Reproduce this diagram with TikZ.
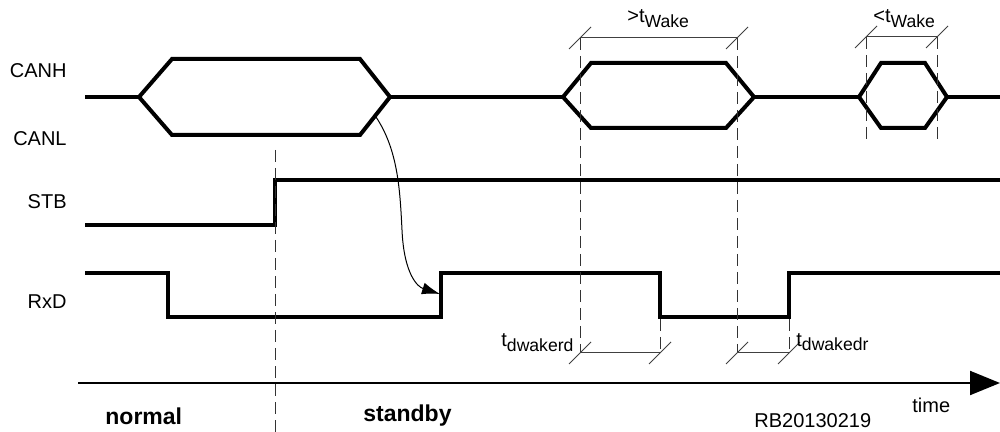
\documentclass[tikz,border=0pt]{standalone}
\usepackage{fontspec}
\setmainfont{Liberation Sans}
\usetikzlibrary{arrows.meta}
\tikzset{
  sig/.style={line width=2pt, line join=miter},
  dimline/.style={line width=0.5pt, black!75},
  guide/.style={line width=0.5pt, black!80, dash pattern=on 6pt off 3pt},
  lbl/.style={inner sep=0pt, font=\fontsize{10}{12}\selectfont},
  blbl/.style={inner sep=0pt, font=\fontsize{11.5}{13}\selectfont\bfseries},
  tick/.style={line width=0.5pt, black!75}
}
\newcommand{\subtxt}[1]{\raisebox{-2.2pt}{\fontsize{8.8}{10}\selectfont #1}}
\begin{document}
\begin{tikzpicture}[x=0.5pt,y=-0.5pt]
\useasboundingbox (0,0) rectangle (1000,432);
% labels
\node[lbl, anchor=east] (canh) at (67,71) {CANH};
\node[lbl, anchor=east] (canl) at (67,139) {CANL};
\node[lbl, anchor=east] (stb) at (67,202) {STB};
\node[lbl, anchor=east] (rxd) at (67,302) {RxD};
% CAN bus
\draw[sig] (85,97) -- (139,97);
\draw[sig] (139,97) -- (172,59) -- (360,59) -- (390,97) -- (360,135) -- (172,135) -- cycle;
\draw[sig] (390,97) -- (563,97);
\draw[sig] (563,97) -- (591,63) -- (726,63) -- (754,97) -- (726,128) -- (591,128) -- cycle;
\draw[sig] (754,97) -- (859,97);
\draw[sig] (859,97) -- (881,63) -- (925,63) -- (947,97) -- (925,128) -- (881,128) -- cycle;
\draw[sig] (947,97) -- (1000,97);
% STB
\draw[sig] (85,225) -- (275,225) -- (275,180) -- (1000,180);
% RxD
\draw[sig] (85,273) -- (168,273) -- (168,317) -- (441,317) -- (441,273) -- (660,273) -- (660,317) -- (789,317) -- (789,273) -- (1000,273);
% guides
\draw[guide] (275,150) -- (275,432);
\draw[guide] (580,38) -- (580,353);
\draw[guide] (737,38) -- (737,353);
\draw[guide] (660,319) -- (660,353);
\draw[guide] (789,319) -- (789,353);
\draw[guide] (866,37) -- (866,143);
\draw[guide] (937,37) -- (937,143);
% dimensions top
\draw[dimline] (580,38) -- (737,38);
\draw[tick] (569,49) -- (591,27);
\draw[tick] (726,49) -- (748,27);
\draw[dimline] (866,37) -- (937,37);
\draw[tick] (855,48) -- (877,26);
\draw[tick] (926,48) -- (948,26);
% dimensions bottom
\draw[dimline] (580,353) -- (660,353);
\draw[dimline] (737,353) -- (789,353);
\draw[tick] (569,364) -- (591,342);
\draw[tick] (649,364) -- (671,342);
\draw[tick] (726,364) -- (748,342);
\draw[tick] (778,364) -- (800,342);
% timing labels
\node[lbl, anchor=base west] (twake1) at (627,23) {>t\subtxt{Wake}};
\node[lbl, anchor=base west] (twake2) at (873,23) {<t\subtxt{Wake}};
\node[lbl, anchor=base west] (tdrd) at (501,347) {t\subtxt{dwakerd}};
\node[lbl, anchor=base west] (tddr) at (796,346) {t\subtxt{dwakedr}};
% curved arrow
\coordinate (cs) at (376,117);
\coordinate (ce) at (440,294);
\draw[line width=0.5pt, -{Latex[length=9pt,width=6pt]}] (cs) .. controls (398,150) and (400,190) .. (402,230) .. controls (404,275) and (418,287) .. (ce);
% time axis
\coordinate (ta) at (78,383);
\coordinate (tb) at (1000,383);
\draw[line width=1pt, -{Triangle[length=15pt,width=12pt]}] (ta) -- (tb);
\node[lbl, anchor=west] (time) at (912,405) {time};
\node[lbl, anchor=west] (rb) at (754,421) {RB20130219};
\node[blbl, anchor=west] (normal) at (105,416) {normal};
\node[blbl, anchor=west] (standby) at (363,416) {standby};
\end{tikzpicture}
\end{document}
